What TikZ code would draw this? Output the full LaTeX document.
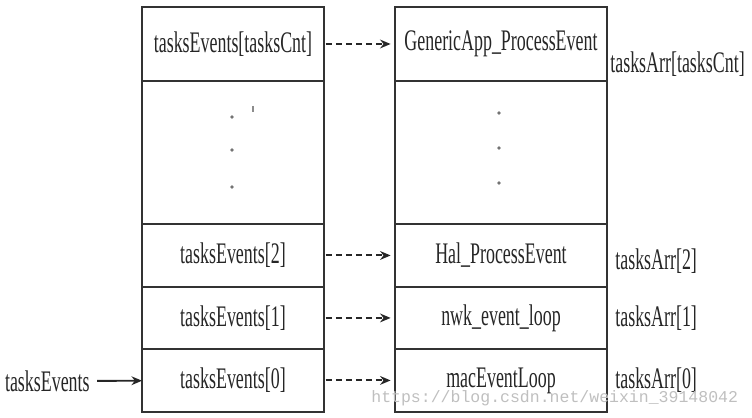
\documentclass[tikz,border=0pt]{standalone}
\usepackage{fontspec}
\setmainfont{Liberation Serif}[FakeStretch=0.6]
\newfontfamily\wmfont{Liberation Mono}
\usetikzlibrary{arrows.meta,positioning}

\tikzset{
    cell/.style={draw=black!80, line width=1pt, minimum height=#1, inner sep=0pt, outer sep=0pt,
        font=\fontsize{17}{20}\selectfont, text=black!85},
    evcell/.style={cell=#1, minimum width=3.64cm},
    fncell/.style={cell=#1, minimum width=4.24cm},
    arrlabel/.style={anchor=west, inner sep=0pt, font=\fontsize{17}{20}\selectfont, text=black!85},
    link/.style={dashed, dash pattern=on 3.4pt off 2.3pt, line width=1.1pt, black!85,
        -{Stealth[length=6pt,width=5pt]}, shorten >=2.5pt, shorten <=1pt},
}

\begin{document}
\begin{tikzpicture}[x=0.02cm, y=-0.02cm]
    \useasboundingbox (0,0) rectangle (752,418);

    % tasksEvents column
    \node[evcell=1.48cm] (evN) at (233,44) {tasksEvents[tasksCnt]};
    \node[evcell=2.86cm, below=0pt of evN] (evdots) {};
    \node[evcell=1.26cm, below=0pt of evdots] (ev2) {tasksEvents[2]};
    \node[evcell=1.24cm, below=0pt of ev2] (ev1) {tasksEvents[1]};
    \node[evcell=1.26cm, below=0pt of ev1] (ev0) {tasksEvents[0]};

    % tasksArr column
    \node[fncell=1.48cm] (fnN) at (501,44) {GenericApp\_ProcessEvent};
    \node[fncell=2.86cm, below=0pt of fnN] (fndots) {};
    \node[fncell=1.26cm, below=0pt of fndots] (fn2) {Hal\_ProcessEvent};
    \node[fncell=1.24cm, below=0pt of fn2] (fn1) {nwk\_event\_loop};
    \node[fncell=1.26cm, below=0pt of fn1] (fn0) {macEventLoop};

    % Vertical dots
    \foreach \y in {117,150,187}
        \fill[black!55] (232,\y) circle (1.1pt);
    \draw[black!45, line width=0.7pt] (253,106) -- (253,112);
    \foreach \y in {113,148,183}
        \fill[black!55] (499,\y) circle (1.1pt);

    % Dashed links
    \draw[link] (evN) -- (fnN);
    \draw[link] (ev2) -- (fn2);
    \draw[link] (ev1) -- (fn1);
    \draw[link] (ev0) -- (fn0);

    % Array labels
    \node[arrlabel] (arrN) at (610,64) {tasksArr[tasksCnt]};
    \node[arrlabel] (arr2) at (615,261) {tasksArr[2]};
    \node[arrlabel] (arr1) at (615,318) {tasksArr[1]};
    \node[arrlabel] (arr0) at (615,380) {tasksArr[0]};

    % Pointer
    \node[arrlabel, anchor=east] (ptr) at (90,381) {tasksEvents};
    \draw[line width=1.1pt, black!85, -{Stealth[length=6pt,width=5pt]}, shorten <=4pt] (ptr) -- (ev0);

    % Watermark
    \node[anchor=west, inner sep=0pt, font=\wmfont\fontsize{9.4}{11}\selectfont, text=black!25]
        (wm) at (371,398) {https://blog.csdn.net/weixin\_39148042};
\end{tikzpicture}
\end{document}
